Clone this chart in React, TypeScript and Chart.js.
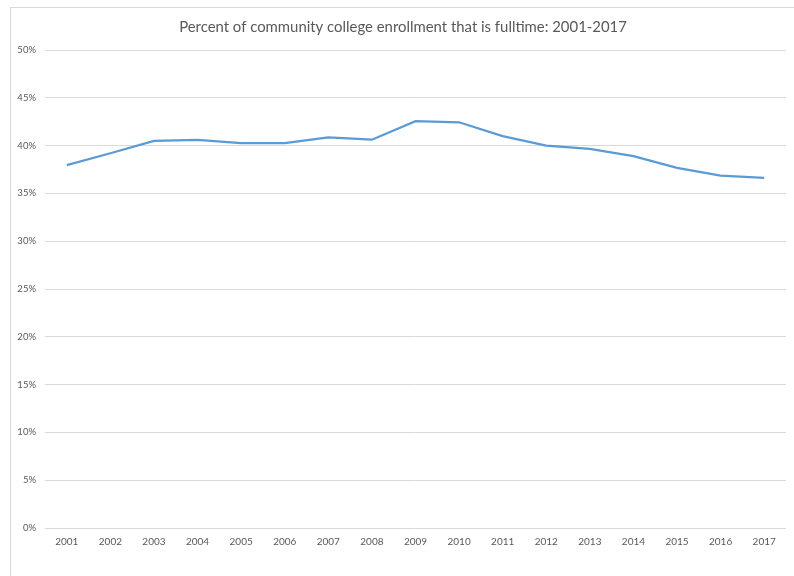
import React, { useEffect, useRef } from "react";
import { Chart, registerables } from "chart.js";

Chart.register(...registerables);

const titleText = "Percent of community college enrollment that is fulltime: 2001-2017";
const years = ["2001", "2002", "2003", "2004", "2005", "2006", "2007", "2008", "2009", "2010", "2011", "2012", "2013", "2014", "2015", "2016", "2017"];
const fulltimePercent = [37.95, 39.2, 40.5, 40.6, 40.27, 40.27, 40.85, 40.62, 42.55, 42.44, 41.0, 40.0, 39.65, 38.9, 37.68, 36.87, 36.62];
const yMin = 0;
const yMax = 50;
const yStep = 5;

const titlePlugin = {
  id: "centeredTitle",
  afterDraw(chart: any) {
    const ctx = chart.ctx;
    ctx.save();
    ctx.font = "normal 14.9px Lato, 'Open Sans', sans-serif";
    ctx.fillStyle = "#595959";
    ctx.textAlign = "center";
    ctx.textBaseline = "middle";
    const cx = (20 + chart.chartArea.right) / 2;
    ctx.fillText(titleText, cx, 27);
    ctx.restore();
  },
};

export default function App() {
  const canvasRef = useRef<HTMLCanvasElement | null>(null);

  useEffect(() => {
    const canvas = canvasRef.current;
    if (!canvas) return;
    const chart = new Chart(canvas, {
      type: "line",
      data: {
        labels: years,
        datasets: [
          {
            label: "Fulltime",
            data: fulltimePercent,
            borderColor: "#5B9BD5",
            backgroundColor: "#5B9BD5",
            borderWidth: 2.25,
            pointRadius: 0,
            pointHoverRadius: 0,
            tension: 0,
            fill: false,
          },
        ],
      },
      plugins: [titlePlugin],
      options: {
        animation: false,
        responsive: false,
        maintainAspectRatio: false,
        layout: { padding: { left: 0, right: 8, top: 50, bottom: 0 } },
        plugins: {
          legend: { display: false },
          tooltip: { enabled: false },
          title: { display: false },
        },
        scales: {
          x: {
            offset: true,
            grid: { display: false, drawTicks: false },
            border: { display: false },
            ticks: {
              color: "#595959",
              font: { family: "Lato, 'Open Sans', sans-serif", size: 10 },
              padding: 8,
              maxRotation: 0,
              autoSkip: false,
            },
            afterFit: (s: any) => {
              s.height = 48;
            },
          },
          y: {
            min: yMin,
            max: yMax,
            grid: { color: "#d9d9d9", lineWidth: 1, drawTicks: false },
            border: { display: false },
            ticks: {
              stepSize: yStep,
              color: "#595959",
              font: { family: "Lato, 'Open Sans', sans-serif", size: 9.5 },
              padding: 9,
              callback: (v: any) => `${v}%`,
            },
            afterFit: (s: any) => {
              s.width = 45;
            },
          },
        },
      },
    });
    return () => chart.destroy();
  }, []);

  return (
    <div
      style={{
        position: "fixed",
        left: 0,
        top: 0,
        width: 794,
        height: 576,
        overflow: "hidden",
        background: "#ffffff",
      }}
    >
      <div
        style={{
          position: "absolute",
          left: 10,
          top: 7,
          width: 820,
          height: 620,
          border: "1px solid #d9d9d9",
          boxSizing: "border-box",
        }}
      />
      <canvas
        ref={canvasRef}
        width={794}
        height={576}
        style={{ position: "absolute", left: 0, top: 0, width: 794, height: 576 }}
      />
    </div>
  );
}
